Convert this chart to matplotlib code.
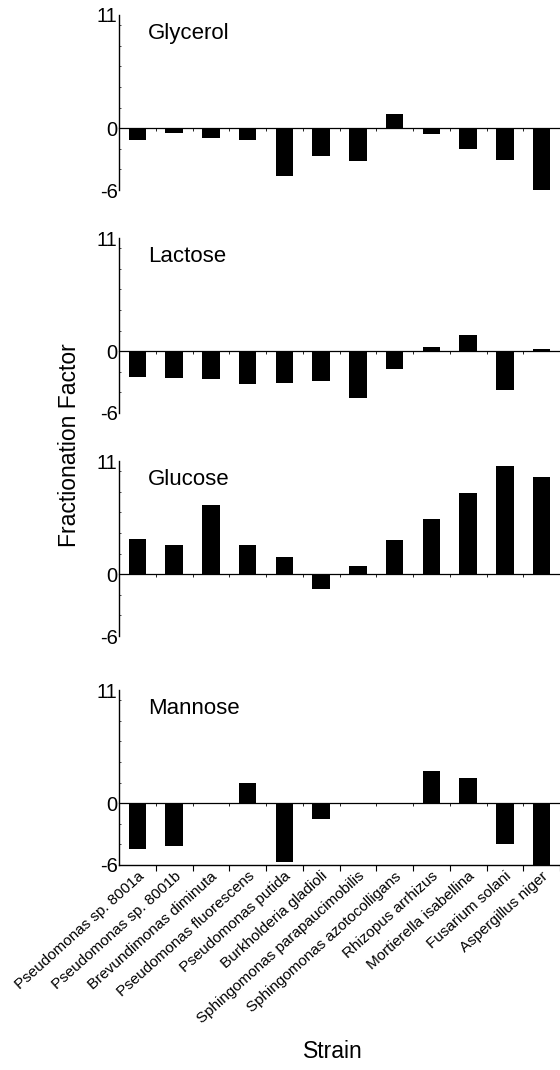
import numpy as np
from matplotlib import pyplot as plt

plt.rcParams['font.family'] = ['Liberation Sans', 'DejaVu Sans']
plt.rcParams['axes.unicode_minus'] = False

strains = ["Pseudomonas sp. 8001a", "Pseudomonas sp. 8001b", "Brevundimonas diminuta",
           "Pseudomonas fluorescens", "Pseudomonas putida", "Burkholderia gladioli",
           "Sphingomonas parapaucimobilis", "Sphingomonas azotocolligans",
           "Rhizopus arrhizus", "Mortierella isabellina", "Fusarium solani",
           "Aspergillus niger"]

glycerol = [-1.1, -0.5, -0.9, -1.1, -4.6, -2.7, -3.2, 1.35, -0.6, -2.0, -3.1, -6.0]
lactose = [-2.5, -2.6, -2.7, -3.2, -3.1, -2.9, -4.5, -1.75, 0.4, 1.6, -3.8, 0.2]
glucose = [3.4, 2.85, 6.75, 2.85, 1.7, -1.4, 0.8, 3.3, 5.4, 7.9, 10.5, 9.4]
mannose = [-4.4, -4.2, 0, 2.0, -5.7, -1.5, 0, 0, 3.1, 2.5, -4.0, -6.0]

panels = [("Glycerol", glycerol), ("Lactose", lactose),
          ("Glucose", glucose), ("Mannose", mannose)]
# top of each panel in pixels (fig is 560x1070)
tops = [15, 238, 461, 690]
ph = 175

fig = plt.figure(figsize=(5.6, 10.7), dpi=100)
x = np.arange(len(strains))
bounds = np.arange(len(strains) + 1) - 0.5

for i, (name, vals) in enumerate(panels):
    ax = fig.add_axes([119 / 560, 1 - (tops[i] + ph) / 1070, 441 / 560, ph / 1070])
    ax.bar(x, vals, width=0.47, color='black')
    ax.set_xlim(-0.5, 11.5)
    ax.set_ylim(-6, 11)
    ax.spines['top'].set_visible(False)
    ax.spines['right'].set_visible(False)
    ax.spines['left'].set_linewidth(1.0)
    ax.set_yticks([-6, 0, 11])
    ax.set_yticks(np.arange(-6, 11, 2), minor=True)
    ax.tick_params(axis='y', which='major', length=0, pad=1, labelsize=14.5)
    ax.tick_params(axis='y', which='minor', length=1.5, direction='in', width=0.5)
    ax.text(0.065, 0.865, name, transform=ax.transAxes, fontsize=16, va='baseline')

    if i < 3:
        ax.spines['bottom'].set_position(('data', 0))
        ax.spines['bottom'].set_linewidth(0.9)
        ax.set_xticks([])
        ax.set_xticks(bounds[1:], minor=True)
        ax.tick_params(axis='x', which='minor', length=2, width=0.6)
    else:
        ax.spines['bottom'].set_linewidth(1.0)
        ax.set_xticks(x)
        ax.set_xticklabels(strains, rotation=42, ha='right', va='top',
                           rotation_mode='anchor', fontsize=11)
        ax.set_xticks(bounds[1:], minor=True)
        ax.tick_params(axis='x', which='major', length=0, pad=3)
        ax.tick_params(axis='x', which='minor', length=4, width=0.8)
        zero = ax.secondary_xaxis(6 / 17)
        zero.set_xticks(bounds[1:])
        zero.set_xticklabels([])
        zero.tick_params(length=2, width=0.6)
        zero.spines['bottom'].set_linewidth(0.9)

fig.text(70 / 560, 1 - 445 / 1070, "Fractionation Factor", rotation=90,
         fontsize=16.5, ha='center', va='center')
fig.text(333 / 560, 1 - 1058 / 1070, "Strain", fontsize=16.5, ha='center', va='baseline')

plt.savefig("out.png", dpi=100)
